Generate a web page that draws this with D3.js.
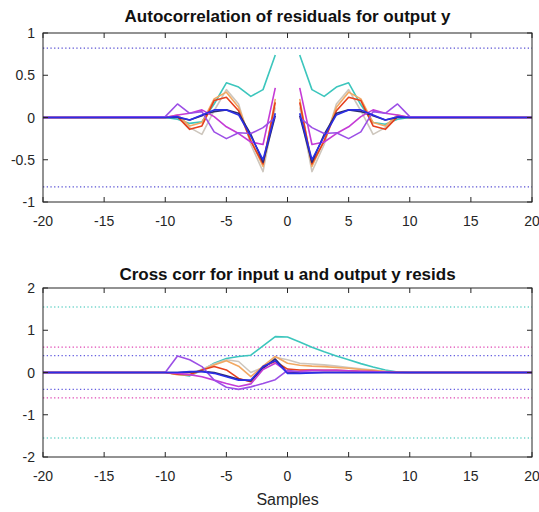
<!DOCTYPE html>
<html><head><meta charset="utf-8">
<script src="https://cdn.jsdelivr.net/npm/d3@7"></script>
<style>body{margin:0;background:#fff}svg{display:block}</style>
</head><body><svg id="c" width="539" height="512"></svg>
<script>
const xTicks = [-20,-15,-10,-5,0,5,10,15,20];
const yTicksTop = [-1,-0.5,0,0.5,1];
const yTicksBot = [-2,-1,0,1,2];
const titleTop = "Autocorrelation of residuals for output y";
const titleBot = "Cross corr for input u and output y resids";
const xLabel = "Samples";

const seriesNames = ["cyan","grey","orange","red","navy","magenta","violet","blue"];
const seriesColors = ["#3cc6bd","#cdc6bd","#f2a862","#e5401d","#2c2a6e","#c53bd6","#9c4fe6","#2a2ee6"];

// top: lags -20, -10..-1, 0 (gap), 1..10, 20
const lagsTop = [-20,-10,-9,-8,-7,-6,-5,-4,-3,-2,-1,0,1,2,3,4,5,6,7,8,9,10,20];
const acCyan    = [0,0,-0.02,-0.07,-0.05,0.16,0.41,0.36,0.25,0.33,0.74,null,0.74,0.33,0.25,0.36,0.41,0.15,-0.06,-0.08,-0.02,0,0];
const acGrey    = [0,0,0.01,-0.12,-0.2,0.08,0.33,0.16,-0.32,-0.64,0.12,null,0.12,-0.64,-0.32,0.16,0.33,0.08,-0.2,-0.12,0.01,0,0];
const acOrange  = [0,0,0.03,-0.1,-0.06,0.22,0.3,0.12,-0.27,-0.58,0.22,null,0.22,-0.58,-0.27,0.12,0.3,0.22,-0.06,-0.1,0.03,0,0];
const acRed     = [0,0,0.01,-0.14,-0.1,0.2,0.24,0.08,-0.28,-0.55,0.18,null,0.18,-0.55,-0.28,0.08,0.24,0.2,-0.1,-0.14,0.01,0,0];
const acNavy    = [0,0,0,-0.03,0.02,0.07,0.09,0.05,-0.2,-0.53,0.02,null,0.02,-0.53,-0.2,0.05,0.09,0.07,0.02,-0.03,0,0,0];
const acMagenta = [0,0,0.03,0.05,0.09,0.01,-0.11,-0.19,-0.29,-0.32,0.35,null,0.35,-0.32,-0.29,-0.19,-0.11,0.01,0.09,0.05,0.03,0,0];
const acViolet  = [0,0.01,0.16,0.05,0.07,-0.17,-0.25,-0.18,-0.19,-0.12,0.0,null,0.0,-0.12,-0.19,-0.18,-0.25,-0.17,0.07,0.05,0.16,0.01,0];
const acBlue    = [0,0,0.01,-0.03,0.03,0.09,0.09,0.03,-0.22,-0.5,0.05,null,0.05,-0.5,-0.22,0.03,0.09,0.09,0.03,-0.03,0.01,0,0];
const acBounds  = [0.82];

// bottom: lags -20, -10..10, 20
const lagsBot = [-20,-10,-9,-8,-7,-6,-5,-4,-3,-2,-1,0,1,2,3,4,5,6,7,8,9,10,20];
const ccCyan    = [0,0,-0.04,-0.08,0.05,0.22,0.33,0.38,0.41,0.63,0.85,0.84,0.72,0.6,0.49,0.39,0.3,0.21,0.13,0.06,0.01,0,0];
const ccGrey    = [0,0,-0.03,-0.05,0.08,0.2,0.3,0.26,0.0,0.12,0.36,0.3,0.22,0.2,0.18,0.15,0.12,0.09,0.06,0.03,0.01,0,0];
const ccOrange  = [0,0,-0.05,-0.06,0.05,0.18,0.28,0.15,-0.1,0.15,0.38,0.22,0.17,0.15,0.14,0.12,0.1,0.07,0.05,0.02,0.01,0,0];
const ccRed     = [0,0,-0.04,-0.05,0.06,0.14,0.06,-0.14,-0.22,0.14,0.26,0.08,0.06,0.06,0.05,0.05,0.04,0.03,0.02,0.01,0,0,0];
const ccNavy    = [0,0,0,0.01,0.03,0,-0.08,-0.16,-0.2,0.1,0.32,0,0,0,0,0,0,0,0,0,0,0,0];
const ccMagenta = [0,0,-0.02,-0.05,-0.1,-0.18,-0.26,-0.33,-0.27,0.07,0.22,0.02,0.03,0.05,0.05,0.05,0.04,0.03,0.02,0.01,0,0,0];
const ccViolet  = [0,0,0.39,0.3,0.14,-0.18,-0.35,-0.4,-0.34,-0.26,-0.17,0.05,0.01,0,0,0,0,0,0,0,0,0,0];
const ccBlue    = [0,0,0,0.02,0.02,-0.02,-0.1,-0.18,-0.18,0.14,0.28,-0.02,-0.02,-0.01,0,0,0,0,0,0,0,0,0];
const ccBounds  = [1.55,0.6,0.4];
const ccBoundColors = ["#74d6cc","#e047b4","#6660e0"];

const acSeries = [acCyan,acGrey,acOrange,acRed,acNavy,acMagenta,acViolet,acBlue];
const ccSeries = [ccCyan,ccGrey,ccOrange,ccRed,ccNavy,ccMagenta,ccViolet,ccBlue];

const svg = d3.select("#c");
const FONT = "'Liberation Sans', Arial, sans-serif";
const axisColor = "#262626";

function panel(cfg){
  const {top,bottom,left,right,yDomain,yTicks,lags,series,bounds,boundColors,title,titleY,xlab} = cfg;
  const x = d3.scaleLinear().domain([-20,20]).range([left,right]);
  const y = d3.scaleLinear().domain(yDomain).range([bottom,top]);
  const g = svg.append("g");
  bounds.forEach((b,i)=>{
    [b,-b].forEach(v=>{
      g.append("line").attr("x1",x(-20)).attr("x2",x(20)).attr("y1",y(v)).attr("y2",y(v))
        .attr("stroke",boundColors[i]).attr("stroke-width",1.3).attr("stroke-dasharray","1.3,2.4");
    });
  });
  const line = d3.line().defined(d=>d[1]!==null).x(d=>x(d[0])).y(d=>y(d[1]));
  series.forEach((s,i)=>{
    g.append("path").datum(lags.map((l,j)=>[l,s[j]])).attr("d",line)
      .attr("fill","none").attr("stroke",seriesColors[i]).attr("stroke-width",1.6)
      .attr("stroke-linejoin","round");
  });
  g.append("rect").attr("x",left).attr("y",top).attr("width",right-left).attr("height",bottom-top)
    .attr("fill","none").attr("stroke",axisColor).attr("stroke-width",1);
  const tl = 5;
  xTicks.forEach(t=>{
    g.append("line").attr("x1",x(t)).attr("x2",x(t)).attr("y1",bottom).attr("y2",bottom-tl).attr("stroke",axisColor);
    g.append("line").attr("x1",x(t)).attr("x2",x(t)).attr("y1",top).attr("y2",top+tl).attr("stroke",axisColor);
    g.append("text").attr("x",x(t)).attr("y",bottom+24).attr("text-anchor","middle")
      .attr("font-family",FONT).attr("font-size",14).attr("fill",axisColor).text(t);
  });
  yTicks.forEach(t=>{
    g.append("line").attr("x1",left).attr("x2",left+tl).attr("y1",y(t)).attr("y2",y(t)).attr("stroke",axisColor);
    g.append("line").attr("x1",right).attr("x2",right-tl).attr("y1",y(t)).attr("y2",y(t)).attr("stroke",axisColor);
    g.append("text").attr("x",left-8).attr("y",y(t)+5).attr("text-anchor","end")
      .attr("font-family",FONT).attr("font-size",14).attr("fill",axisColor).text(t);
  });
  g.append("text").attr("x",(left+right)/2).attr("y",titleY).attr("text-anchor","middle")
    .attr("font-family",FONT).attr("font-weight","bold").attr("font-size",17).attr("fill","#111").text(title);
  if(xlab){
    g.append("text").attr("x",(left+right)/2).attr("y",bottom+48).attr("text-anchor","middle")
      .attr("font-family",FONT).attr("font-size",16).attr("fill",axisColor).text(xlab);
  }
}

panel({top:33,bottom:202,left:43,right:532,yDomain:[-1,1],yTicks:yTicksTop,lags:lagsTop,
  series:acSeries,bounds:acBounds,boundColors:["#5a52d4"],title:titleTop,titleY:22});
panel({top:288,bottom:457,left:43,right:532,yDomain:[-2,2],yTicks:yTicksBot,lags:lagsBot,
  series:ccSeries,bounds:ccBounds,boundColors:ccBoundColors,title:titleBot,titleY:280,xlab:xLabel});
</script></body></html>
